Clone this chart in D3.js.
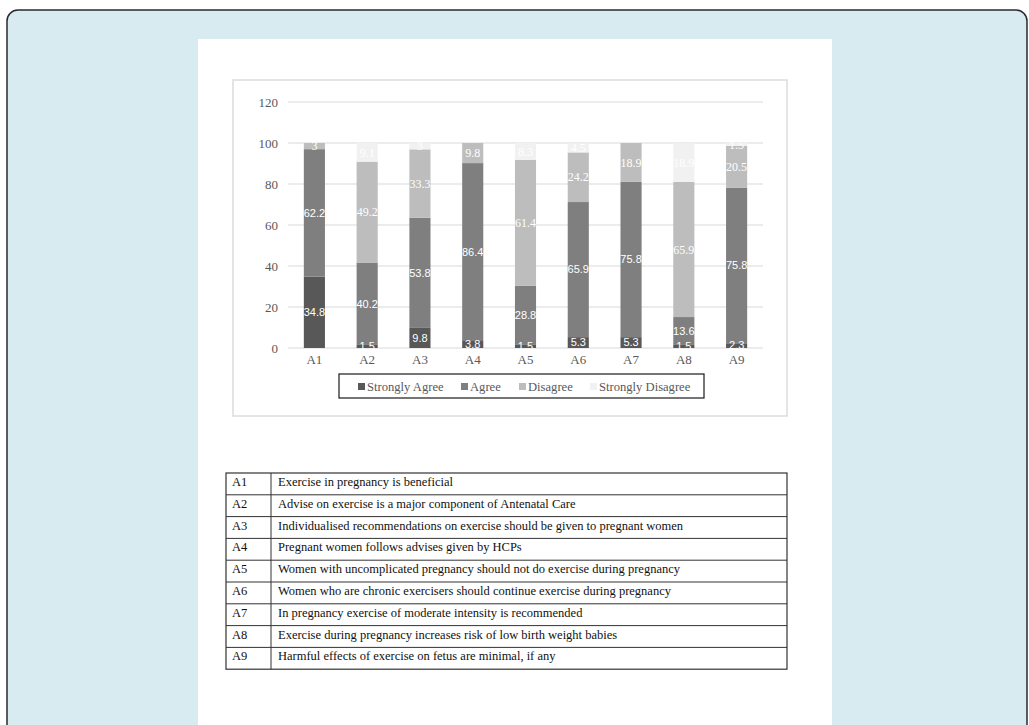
<!DOCTYPE html>
<html>
<head>
<meta charset="utf-8">
<script src="https://cdn.jsdelivr.net/npm/d3@7"></script>
<style>
  html, body { margin: 0; padding: 0; background: #ffffff; }
  svg { display: block; }
</style>
</head>
<body>
<svg id="chart" width="1029" height="725"></svg>
<script>
const categories = ["A1", "A2", "A3", "A4", "A5", "A6", "A7", "A8", "A9"];
const seriesNames = ["Strongly Agree", "Agree", "Disagree", "Strongly Disagree"];
const stronglyAgree = [34.8, 1.5, 9.8, 3.8, 1.5, 5.3, 5.3, 1.5, 2.3];
const agree = [62.2, 40.2, 53.8, 86.4, 28.8, 65.9, 75.8, 13.6, 75.8];
const disagree = [3, 49.2, 33.3, 9.8, 61.4, 24.2, 18.9, 65.9, 20.5];
const stronglyDisagree = [0, 9.1, 3, 0, 8.3, 4.5, 0, 18.9, 1.5];
const yTicks = [0, 20, 40, 60, 80, 100, 120];
const descriptions = [
  "Exercise in pregnancy is beneficial",
  "Advise on exercise is a major component of Antenatal Care",
  "Individualised recommendations on exercise should be given to pregnant women",
  "Pregnant women follows advises given by HCPs",
  "Women with uncomplicated pregnancy should not do exercise during pregnancy",
  "Women who are chronic exercisers should continue exercise during pregnancy",
  "In pregnancy exercise of moderate intensity is recommended",
  "Exercise during pregnancy increases risk of low birth weight babies",
  "Harmful effects of exercise on fetus are minimal, if any"
];

const colors = ["#585858", "#7f7f7f", "#bdbdbd", "#f1f1f1"];
const labelFonts = ["'Liberation Sans', Arial, sans-serif", "'Liberation Sans', Arial, sans-serif",
                    "'Liberation Serif', serif", "'Liberation Serif', serif"];
const serif = "'Liberation Serif', 'Times New Roman', serif";

const svg = d3.select("#chart");

// page background / frame
svg.append("rect").attr("x", 0).attr("y", 0).attr("width", 1029).attr("height", 725).attr("fill", "#ffffff");
svg.append("rect").attr("x", 7).attr("y", 10).attr("width", 1020).attr("height", 760)
  .attr("rx", 11).attr("ry", 11).attr("fill", "#d7ebf1").attr("stroke", "#2a2a2a").attr("stroke-width", 1.5);
svg.append("rect").attr("x", 198).attr("y", 39).attr("width", 634).attr("height", 700).attr("fill", "#ffffff");

// chart box
svg.append("rect").attr("x", 233).attr("y", 80).attr("width", 554).attr("height", 336)
  .attr("fill", "#ffffff").attr("stroke", "#dcdcdc").attr("stroke-width", 1.5);

const x = d3.scaleBand().domain(categories).range([288, 763]).paddingInner(0.6).paddingOuter(0.3);
const y = d3.scaleLinear().domain([0, 120]).range([348, 102]);

// gridlines
svg.append("g").selectAll("line").data(yTicks).join("line")
  .attr("x1", 288).attr("x2", 763)
  .attr("y1", d => y(d)).attr("y2", d => y(d))
  .attr("stroke", "#d9d9d9").attr("stroke-width", 1);

// y axis labels
const yAxis = d3.axisLeft(y).tickValues(yTicks).tickSize(0).tickPadding(0);
const gy = svg.append("g").attr("transform", "translate(278,0)").call(yAxis);
gy.select(".domain").remove();
gy.selectAll("text").attr("font-family", serif).attr("font-size", 13).attr("fill", "#595959");

// x axis labels
const xAxis = d3.axisBottom(x).tickSize(0).tickPadding(0);
const gx = svg.append("g").attr("transform", "translate(0,355)").call(xAxis);
gx.select(".domain").remove();
gx.selectAll("text").attr("font-family", serif).attr("font-size", 13).attr("fill", "#595959");

// stacked data
const rows = categories.map((c, i) => ({
  cat: c,
  "Strongly Agree": stronglyAgree[i],
  "Agree": agree[i],
  "Disagree": disagree[i],
  "Strongly Disagree": stronglyDisagree[i]
}));
const stacked = d3.stack().keys(seriesNames)(rows);

const layers = svg.append("g").selectAll("g").data(stacked).join("g")
  .attr("fill", (d, i) => colors[i]);
layers.selectAll("rect").data(d => d).join("rect")
  .attr("x", d => x(d.data.cat))
  .attr("width", x.bandwidth())
  .attr("y", d => y(d[1]))
  .attr("height", d => y(d[0]) - y(d[1]));

// data labels
const labelLayers = svg.append("g").selectAll("g").data(stacked).join("g");
labelLayers.each(function(layer, li) {
  d3.select(this).selectAll("text").data(layer.filter(d => d[1] - d[0] > 0)).join("text")
    .attr("x", d => x(d.data.cat) + x.bandwidth() / 2)
    .attr("y", d => y((d[0] + d[1]) / 2))
    .attr("dy", "0.35em")
    .attr("text-anchor", "middle")
    .attr("font-family", labelFonts[li])
    .attr("font-size", li < 2 ? 11 : 12)
    .attr("fill", "#ffffff")
    .text(d => d.data[layer.key]);
});

// legend
svg.append("rect").attr("x", 339).attr("y", 374).attr("width", 365).attr("height", 24)
  .attr("fill", "none").attr("stroke", "#1a1a1a").attr("stroke-width", 1.2);
const legendX = [358, 461, 519, 590];
const lg = svg.append("g").selectAll("g").data(seriesNames).join("g")
  .attr("transform", (d, i) => `translate(${legendX[i]},386.5)`);
lg.append("rect").attr("x", 0).attr("y", -3.5).attr("width", 7).attr("height", 7)
  .attr("fill", (d, i) => colors[i]);
lg.append("text").attr("x", 9).attr("dy", "0.35em")
  .attr("font-family", serif).attr("font-size", 12.6).attr("fill", "#595959")
  .text(d => d);

// table
const tX = 226, tY = 473, tW = 561, rowH = 21.8, colX = 271;
const tg = svg.append("g");
tg.append("rect").attr("x", tX).attr("y", tY).attr("width", tW).attr("height", rowH * categories.length)
  .attr("fill", "#ffffff").attr("stroke", "#333333").attr("stroke-width", 1.2);
tg.selectAll("line.row").data(d3.range(1, categories.length)).join("line")
  .attr("class", "row")
  .attr("x1", tX).attr("x2", tX + tW)
  .attr("y1", d => tY + d * rowH).attr("y2", d => tY + d * rowH)
  .attr("stroke", "#333333").attr("stroke-width", 1);
tg.append("line").attr("x1", colX).attr("x2", colX).attr("y1", tY).attr("y2", tY + rowH * categories.length)
  .attr("stroke", "#333333").attr("stroke-width", 1);
tg.selectAll("text.code").data(categories).join("text")
  .attr("class", "code")
  .attr("x", tX + 6).attr("y", (d, i) => tY + i * rowH + 13)
  .attr("font-family", serif).attr("font-size", 12.5).attr("fill", "#111")
  .text(d => d);
tg.selectAll("text.desc").data(descriptions).join("text")
  .attr("class", "desc")
  .attr("x", colX + 7).attr("y", (d, i) => tY + i * rowH + 13)
  .attr("font-family", serif).attr("font-size", 12.5).attr("fill", "#111")
  .text(d => d);
</script>
</body>
</html>
